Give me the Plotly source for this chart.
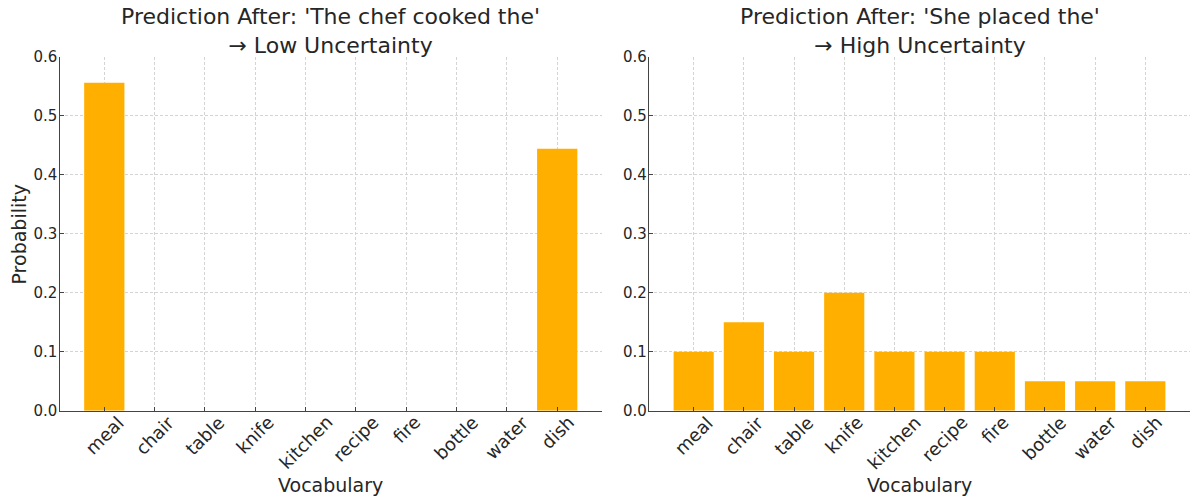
import plotly.graph_objects as go
from plotly.subplots import make_subplots

vocab = ["meal", "chair", "table", "knife", "kitchen", "recipe", "fire", "bottle", "water", "dish"]
probs_low = [0.556, 0, 0, 0, 0, 0, 0, 0, 0, 0.444]
probs_high = [0.10, 0.15, 0.10, 0.20, 0.10, 0.10, 0.10, 0.05, 0.05, 0.05]
titles = ["Prediction After: 'The chef cooked the'<br>→ Low Uncertainty",
          "Prediction After: 'She placed the'<br>→ High Uncertainty"]
y_ticks = [0.0, 0.1, 0.2, 0.3, 0.4, 0.5, 0.6]

W, H = 1200, 503
bar_color = "#FFAF00"
text_color = "#262626"
font = "DejaVu Sans"

fig = make_subplots(rows=1, cols=2)
fig.add_trace(go.Bar(x=vocab, y=probs_low, width=0.8, marker_color=bar_color,
                     marker_line_width=0), row=1, col=1)
fig.add_trace(go.Bar(x=vocab, y=probs_high, width=0.8, marker_color=bar_color,
                     marker_line_width=0), row=1, col=2)

# axes boxes in pixels: (left, right) per panel, shared top/bottom
x_doms = [(59.5, 602), (649, 1190)]
y_top, y_bot = 56.7, 410.7

axis_style = dict(
    showline=True, linecolor="#444444", linewidth=1.3,
    ticks="inside", ticklen=4, tickcolor="#444444", tickwidth=1,
    showgrid=True, gridcolor="#d4d4d4", griddash="3px,2px", gridwidth=0.8,
    zeroline=False, mirror=False, automargin=False,
)

for i, (x0, x1) in enumerate(x_doms):
    xa = "xaxis" if i == 0 else "xaxis2"
    ya = "yaxis" if i == 0 else "yaxis2"
    fig.layout[xa].update(domain=[x0 / W, x1 / W], range=[-0.89, 9.89],
                          showticklabels=False, **axis_style)
    fig.layout[ya].update(domain=[1 - y_bot / H, 1 - y_top / H], range=[0, 0.6],
                          tickvals=y_ticks, ticktext=[f"{v:.1f}" for v in y_ticks],
                          tickfont=dict(size=15, color=text_color, family=font),
                          ticklabelstandoff=-2,
                          **axis_style)

    # rotated category labels, centred under each tick like matplotlib
    for v in vocab:
        fig.add_annotation(x=v, xref="x" if i == 0 else "x2", yref="paper",
                           y=1 - 409 / H, yanchor="top", xanchor="center",
                           text=v, textangle=-45, showarrow=False,
                           font=dict(size=18, color=text_color, family=font))

    xc = (x0 + x1) / 2
    fig.add_annotation(x=xc / W, y=1 - 31 / H, xref="paper", yref="paper",
                       text=titles[i], showarrow=False, xanchor="center", yanchor="middle",
                       font=dict(size=22, color=text_color, family=font))
    fig.add_annotation(x=xc / W, y=1 - 485 / H, xref="paper", yref="paper",
                       text="Vocabulary", showarrow=False, xanchor="center", yanchor="middle",
                       font=dict(size=19, color=text_color, family=font))

fig.add_annotation(x=18.5 / W, y=1 - 235 / H, xref="paper", yref="paper",
                   text="Probability", textangle=-90, showarrow=False,
                   xanchor="center", yanchor="middle",
                   font=dict(size=19, color=text_color, family=font))

fig.update_layout(
    width=W, height=H,
    margin=dict(l=0, r=0, t=0, b=0, pad=0, autoexpand=False),
    plot_bgcolor="white", paper_bgcolor="white",
    showlegend=False, bargap=0.2,
    font=dict(family=font, color=text_color),
)

fig.write_html("out.html", post_script="document.body.style.margin='0';",
               config={"displayModeBar": False})
